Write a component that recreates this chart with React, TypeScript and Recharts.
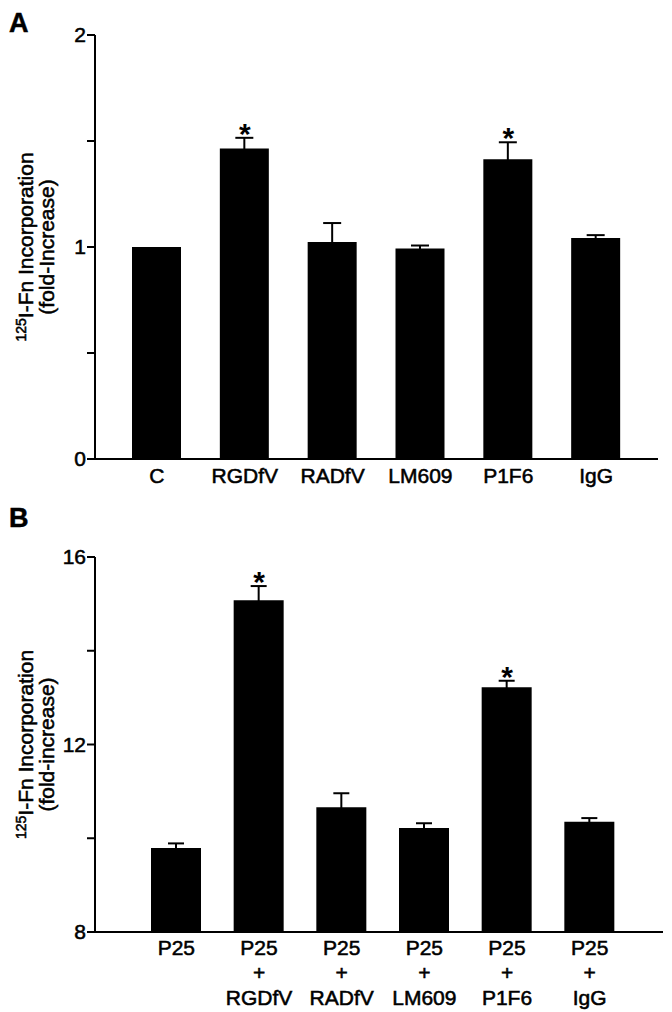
import React from 'react';
import { ComposedChart, Bar, Line, XAxis, YAxis, ErrorBar } from 'recharts';

const FONT = '"Liberation Sans", Arial, Helvetica, sans-serif';

// Panel A: fold increase over control
const groupsA = ['C', 'RGDfV', 'RADfV', 'LM609', 'P1F6', 'IgG'];
const meansA = [1.0, 1.465, 1.023, 0.993, 1.414, 1.043];
const semA = [0, 0.05, 0.09, 0.014, 0.08, 0.013];
const sigA = [false, true, false, false, true, false];
const ticksA = [0, 0.5, 1, 1.5, 2];
const shownTicksA = [0, 1, 2];

// Panel B: P25 stimulated
const groupsB = ['P25', 'P25 + RGDfV', 'P25 + RADfV', 'P25 + LM609', 'P25 + P1F6', 'P25 + IgG'];
const meansB = [9.79, 15.08, 10.66, 10.22, 13.22, 10.35];
const semB = [0.1, 0.3, 0.3, 0.1, 0.14, 0.08];
const sigB = [false, true, false, false, true, false];
const ticksB = [8, 10, 12, 14, 16];
const shownTicksB = [8, 12, 16];

const build = (groups: string[], means: number[], sem: number[], sig: boolean[]) =>
  groups.map((g, i) => ({
    name: g,
    mean: means[i],
    sem: sem[i],
    star: sig[i] ? means[i] + sem[i] : null,
  }));

const dataA = build(groupsA, meansA, semA, sigA);
const dataB = build(groupsB, meansB, semB, sigB);

// slight outline so the text reads as heavy as the scanned figure
const heavy = { stroke: '#000', strokeWidth: 0.55 };

// asterisk sitting just above the error bar
const StarDot = (props: any) => {
  const { cx, cy, payload } = props;
  if (payload == null || payload.star == null || cy == null) return null;
  return (
    <text x={cx} y={cy + 6} textAnchor="middle" fontSize={30} fontWeight="bold" fontFamily={FONT} fill="#000">
      *
    </text>
  );
};

const YLabel = ({ viewBox, second }: any) => {
  const cy = viewBox.y + viewBox.height / 2;
  return (
    <g>
      <text transform={`translate(33, ${cy}) rotate(-90)`} textAnchor="middle" fontSize={21} fontFamily={FONT} fill="#000" {...heavy}>
        <tspan fontSize={14} dy={-7}>125</tspan>
        <tspan dy={7}>I-Fn Incorporation</tspan>
      </text>
      <text transform={`translate(54, ${cy}) rotate(-90)`} textAnchor="middle" fontSize={21} fontFamily={FONT} fill="#000" {...heavy}>
        {second}
      </text>
    </g>
  );
};

const StackTick = ({ x, y, payload }: any) => {
  const parts = String(payload.value).split(' + ');
  const rows = parts.length > 1 ? [parts[0], '+', parts[1]] : parts;
  return (
    <g transform={`translate(${x},${y})`}>
      {rows.map((r, i) => (
        <text key={i} x={0} y={23 + i * 25} textAnchor="middle" fontSize={21} fontFamily={FONT} fill="#000" {...heavy}>
          {r}
        </text>
      ))}
    </g>
  );
};

const axisLine = { stroke: '#000', strokeWidth: 2 };
const tickStyle = { fontSize: 21, fill: '#000', fontFamily: FONT, ...heavy };

export default function App() {
  return (
    <div style={{ position: 'absolute', left: 0, top: 0, width: 672, height: 1012, background: '#fff' }}>
      <div style={{ position: 'absolute', left: 0, top: 0 }}>
        <ComposedChart width={672} height={500} data={dataA} margin={{ top: 35, right: 14, bottom: 1, left: 0 }}>
          <XAxis
            dataKey="name"
            height={40}
            padding={{ left: 18, right: 18 }}
            axisLine={axisLine}
            tickLine={false}
            tickSize={0}
            tickMargin={9}
            tick={tickStyle}
            interval={0}
          />
          <YAxis
            width={95}
            domain={[0, 2]}
            ticks={ticksA}
            interval={0}
            tickFormatter={(v: number) => (shownTicksA.includes(v) ? String(v) : '')}
            axisLine={axisLine}
            tickLine={{ stroke: '#000', strokeWidth: 2 }}
            tickSize={8}
            tickMargin={1}
            tick={tickStyle}
            label={{ content: (p: any) => <YLabel {...p} second="(fold-Increase)" /> }}
          />
          <Bar dataKey="mean" fill="#000" barSize={49} isAnimationActive={false}>
            <ErrorBar dataKey="sem" width={9} stroke="#000" strokeWidth={2} direction="y" />
          </Bar>
          <Line
            dataKey="star"
            stroke="none"
            dot={<StarDot />}
            activeDot={false}
            legendType="none"
            isAnimationActive={false}
          />
        </ComposedChart>
      </div>
      <div style={{ position: 'absolute', left: 0, top: 500 }}>
        <ComposedChart width={672} height={512} data={dataB} margin={{ top: 57, right: 9, bottom: 0, left: 0 }}>
          <XAxis
            dataKey="name"
            height={80}
            padding={{ left: 40, right: 32 }}
            axisLine={axisLine}
            tickLine={false}
            tickSize={0}
            tickMargin={0}
            tick={<StackTick />}
            interval={0}
          />
          <YAxis
            width={95}
            domain={[8, 16]}
            ticks={ticksB}
            interval={0}
            tickFormatter={(v: number) => (shownTicksB.includes(v) ? String(v) : '')}
            axisLine={axisLine}
            tickLine={{ stroke: '#000', strokeWidth: 2 }}
            tickSize={8}
            tickMargin={1}
            tick={tickStyle}
            label={{ content: (p: any) => <YLabel {...p} second="(fold-increase)" /> }}
          />
          <Bar dataKey="mean" fill="#000" barSize={50} isAnimationActive={false}>
            <ErrorBar dataKey="sem" width={8} stroke="#000" strokeWidth={2} direction="y" />
          </Bar>
          <Line
            dataKey="star"
            stroke="none"
            dot={<StarDot />}
            activeDot={false}
            legendType="none"
            isAnimationActive={false}
          />
        </ComposedChart>
      </div>
      <svg width={672} height={1012} style={{ position: 'absolute', left: 0, top: 0, pointerEvents: 'none' }}>
        <text x={9} y={32} fontSize={27} fontWeight="bold" fontFamily={FONT} fill="#000" {...heavy}>A</text>
        <text x={9} y={527} fontSize={27} fontWeight="bold" fontFamily={FONT} fill="#000" {...heavy}>B</text>
      </svg>
    </div>
  );
}
